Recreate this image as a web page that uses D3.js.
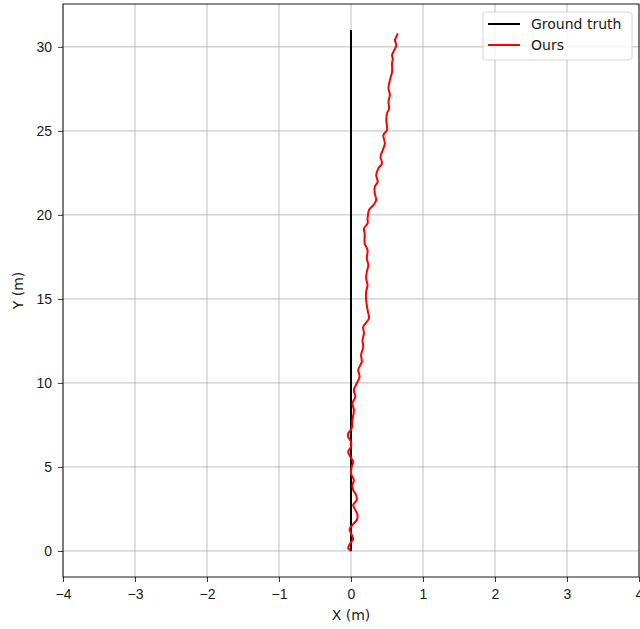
<!DOCTYPE html>
<html>
  <head>
    <meta charset="utf-8">
    <title>Trajectory</title>
    <script src="https://d3js.org/d3.v7.min.js"></script>
    <style>
      body { margin: 0; background: #fff; }
      svg { font-family: "DejaVu Sans", sans-serif; }
      .tick text { font-size: 14px; fill: #1a1a1a; }
      .grid line { stroke: #b0b0b0; stroke-width: 0.8; }
    </style>
  </head>
  <body>
    <svg id="chart" width="640" height="629"></svg>
    <script>
      // ticks
      var xTicks = [-4, -3, -2, -1, 0, 1, 2, 3, 4];
      var yTicks = [0, 5, 10, 15, 20, 25, 30];
      // ground truth: straight line up the y axis
      var truthX = [0, 0];
      var truthY = [0, 31.0];
      // our estimate
      var oursX = [0.00, -0.04, -0.01, 0.03, 0.00, -0.02, 0.02, 0.08, 0.09, 0.06,
        0.03, 0.08, 0.07, 0.03, 0.02, 0.04, 0.00, 0.01, 0.03, -0.01,
        -0.04, 0.00, 0.00, -0.04, -0.04, 0.01, 0.02, 0.04, 0.02, 0.06,
        0.04, 0.08, 0.12, 0.10, 0.15, 0.14, 0.17, 0.16, 0.18, 0.17,
        0.22, 0.25, 0.23, 0.21, 0.21, 0.23, 0.21, 0.22, 0.24, 0.22,
        0.23, 0.19, 0.19, 0.18, 0.23, 0.23, 0.25, 0.31, 0.35, 0.33,
        0.33, 0.37, 0.35, 0.38, 0.43, 0.41, 0.44, 0.47, 0.45, 0.50,
        0.49, 0.50, 0.53, 0.52, 0.54, 0.52, 0.54, 0.57, 0.57, 0.58,
        0.57, 0.60, 0.63, 0.61, 0.64, 0.65];
      var oursY = [0.00, 0.16, 0.46, 0.70, 1.05, 1.29, 1.55, 1.84, 2.14, 2.44,
        2.74, 3.03, 3.33, 3.63, 3.93, 4.22, 4.62, 5.01, 5.31, 5.61,
        5.91, 6.20, 6.50, 6.80, 7.00, 7.30, 7.79, 8.39, 8.79, 9.18,
        9.58, 9.98, 10.37, 10.77, 11.26, 11.66, 12.15, 12.55, 12.95, 13.34,
        13.64, 13.84, 14.34, 14.93, 15.43, 15.82, 16.22, 16.62, 17.01, 17.41,
        17.91, 18.30, 18.90, 19.20, 19.49, 19.79, 20.29, 20.58, 20.88, 21.28,
        21.67, 21.97, 22.37, 22.77, 23.06, 23.46, 23.85, 24.25, 24.75, 25.05,
        25.64, 26.04, 26.34, 26.73, 27.13, 27.53, 28.02, 28.51, 29.01, 29.31,
        29.51, 29.80, 30.10, 30.40, 30.70, 30.80];
      var series = [
        { name: "Ground truth", color: "#000000", xs: truthX, ys: truthY },
        { name: "Ours", color: "#ff0000", xs: oursX, ys: oursY }
      ];

      // plot box (note: "top" is taken by window.top, so use own names)
      var pL = 63, pR = 639, pT = 4, pB = 577;
      var svg = d3.select("#chart");
      var x = d3.scaleLinear().domain([-4, 4]).range([pL, pR]);
      var y = d3.scaleLinear().domain([-1.55, 32.55]).range([pB, pT]);
      var fmt = function(d) { return d < 0 ? "\u2212" + Math.abs(d) : d; };

      // grid
      svg.append("g").attr("class", "grid")
        .selectAll("line").data(xTicks).enter().append("line")
          .attr("x1", x).attr("x2", x).attr("y1", pT).attr("y2", pB);
      svg.append("g").attr("class", "grid")
        .selectAll("line").data(yTicks).enter().append("line")
          .attr("y1", y).attr("y2", y).attr("x1", pL).attr("x2", pR);

      // lines
      svg.append("clipPath").attr("id", "clip")
        .append("rect").attr("x", pL).attr("y", pT)
        .attr("width", pR - pL).attr("height", pB - pT);
      var plot = svg.append("g").attr("clip-path", "url(#clip)");
      series.forEach(function(s) {
        var pts = s.xs.map(function(v, i) { return [v, s.ys[i]]; });
        plot.append("path")
          .datum(pts)
          .attr("fill", "none")
          .attr("stroke", s.color)
          .attr("stroke-width", 2)
          .attr("stroke-linejoin", "round")
          .attr("d", d3.line()
            .x(function(d) { return x(d[0]); })
            .y(function(d) { return y(d[1]); })
            .curve(d3.curveCatmullRom));
      });

      // axes
      var xAxis = svg.append("g")
        .attr("transform", "translate(0," + pB + ")")
        .call(d3.axisBottom(x).tickValues(xTicks).tickFormat(fmt).tickSize(5).tickPadding(7));
      var yAxis = svg.append("g")
        .attr("transform", "translate(" + pL + ",0)")
        .call(d3.axisLeft(y).tickValues(yTicks).tickFormat(fmt).tickSize(5).tickPadding(6));
      [xAxis, yAxis].forEach(function(a) {
        a.select(".domain").remove();
        a.selectAll(".tick line").attr("stroke", "#000").attr("stroke-width", 0.8);
      });
      svg.append("rect")
        .attr("x", pL).attr("y", pT)
        .attr("width", pR - pL).attr("height", pB - pT)
        .attr("fill", "none").attr("stroke", "#000").attr("stroke-width", 0.9);

      // axis labels
      svg.append("text")
        .attr("x", (pL + pR) / 2).attr("y", 620)
        .attr("text-anchor", "middle").attr("font-size", 14).attr("fill", "#1a1a1a")
        .text("X (m)");
      svg.append("text")
        .attr("transform", "translate(23," + (pT + pB) / 2 + ") rotate(-90)")
        .attr("text-anchor", "middle").attr("font-size", 14).attr("fill", "#1a1a1a")
        .text("Y (m)");

      // legend
      var legend = svg.append("g").attr("transform", "translate(483,12)");
      legend.append("rect")
        .attr("width", 149).attr("height", 48).attr("rx", 3)
        .attr("fill", "#fff").attr("fill-opacity", 0.8)
        .attr("stroke", "#d6d6d6").attr("stroke-width", 1);
      series.forEach(function(s, i) {
        var row = legend.append("g").attr("transform", "translate(0," + (12 + i * 21) + ")");
        row.append("line")
          .attr("x1", 5).attr("x2", 37).attr("y1", 0).attr("y2", 0)
          .attr("stroke", s.color).attr("stroke-width", 2);
        row.append("text")
          .attr("x", 48).attr("y", 0).attr("dy", "0.35em")
          .attr("font-size", 14).attr("fill", "#1a1a1a")
          .text(s.name);
      });
    </script>
  </body>
</html>
